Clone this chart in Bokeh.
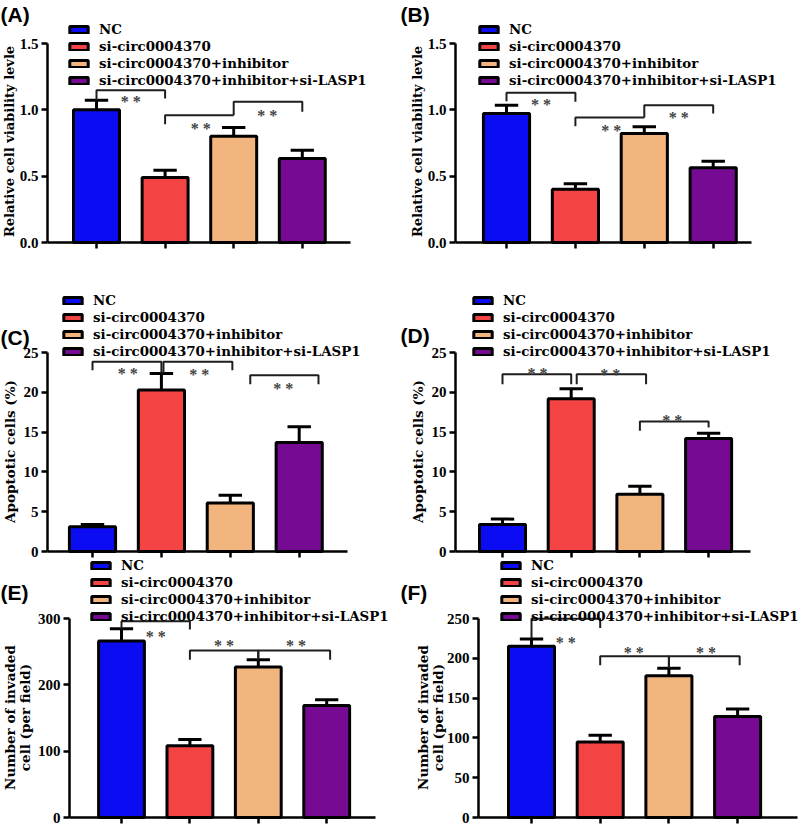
import math
from bokeh.plotting import figure
from bokeh.models import (ColumnDataSource, FixedTicker, Label, Legend, LegendItem, Range1d,
                          NumeralTickFormatter)
from bokeh.layouts import column, row
from bokeh.core.properties import value
from bokeh.embed import file_html
from bokeh.resources import INLINE

# ---------------- data ----------------
groups = ["NC", "si-circ0004370", "si-circ0004370+inhibitor", "si-circ0004370+inhibitor+si-LASP1"]
bar_colors = ["#0c0cf2", "#f44343", "#f1b57d", "#760a92"]

a_mean = [1.00, 0.49, 0.80, 0.633]
a_err = [0.073, 0.055, 0.067, 0.063]
b_mean = [0.972, 0.402, 0.822, 0.563]
b_err = [0.063, 0.040, 0.050, 0.050]
c_mean = [3.1, 20.3, 6.1, 13.7]
c_err = [0.3, 2.05, 0.97, 1.96]
d_mean = [3.4, 19.2, 7.2, 14.2]
d_err = [0.67, 1.26, 1.0, 0.67]
e_mean = [266, 108, 227, 169]
e_err = [18.7, 9.6, 11, 8.6]
f_mean = [215, 95, 178, 127]
f_err = [9.3, 8.4, 9.6, 9.2]

a_ticks = [0, 0.5, 1.0, 1.5]
b_ticks = [0, 0.5, 1.0, 1.5]
c_ticks = [0, 5, 10, 15, 20, 25]
d_ticks = [0, 5, 10, 15, 20, 25]
e_ticks = [0, 100, 200, 300]
f_ticks = [0, 50, 100, 150, 200, 250]

# significance brackets: (x_left, x_right, y_line, y_left_end, y_right_end, star_x, star_y)
a_brackets = [(0, 1, 1.148, 1.073, 1.085, 0.5, 1.09),
              (1, 2, 0.960, 0.892, 0.960, 1.52, 0.892),
              (2, 3, 1.060, 0.960, 0.985, 2.49, 0.985)]
b_brackets = [(0, 1, 1.128, 1.065, 1.060, 0.5, 1.073),
              (1, 2, 0.942, 0.877, 0.942, 1.52, 0.877),
              (2, 3, 1.035, 0.942, 0.972, 2.5, 0.972)]
c_brackets = [(0, 1.0, 23.83, 22.78, 22.36, 0.51, 22.9),
              (1.03, 2.03, 23.83, 22.36, 22.78, 1.55, 22.7),
              (2.29, 3.28, 22.15, 21.02, 21.02, 2.77, 21.02)]
d_brackets = [(0, 1, 22.28, 21.02, 21.02, 0.51, 22.9),
              (1.08, 2.09, 22.28, 21.02, 21.02, 1.57, 22.7),
              (2, 3, 16.33, 15.16, 15.58, 2.47, 16.92)]
e_brackets = [(0, 1, 296, 284.4, 283.4, 0.5, 279.4),
              (1, 2, 251.6, 238, 238, 1.5, 265.8),
              (2, 3.05, 251.6, 238, 238, 2.55, 265.8)]
f_brackets = [(0, 1, 249.6, 225.6, 238.2, 0.5, 224.4),
              (1, 2, 202.5, 191.2, 187.8, 1.49, 211.8),
              (2, 3.03, 202.5, 187.8, 191.2, 2.54, 211.8)]

SERIF = "DejaVu Serif"
TICKFONT = "Liberation Serif"
W = 400


def make_panel(letter, means, errs, brackets, ticks, fmt, ylabels, ylabel_size, g):
    H = g["h"]
    axis, c0, d, xend = g["axis"], g["c0"], g["d"], g["xend"]
    p0, ptop = g["p0"], g["ptop"]
    vtop = ticks[-1]
    sy = (p0 - ptop) / vtop

    def dx(fx):
        return (fx - c0) / d

    def dy(fy):
        return (p0 - fy) / sy

    p = figure(width=W, height=H, x_range=Range1d(dx(0), dx(W)), y_range=Range1d(dy(H), dy(0)),
               output_backend="svg", toolbar_location=None,
               min_border_left=0, min_border_right=0, min_border_top=0, min_border_bottom=0)
    p.xgrid.visible = False
    p.ygrid.visible = False
    p.outline_line_color = None
    p.background_fill_color = "white"
    p.border_fill_color = "white"

    idx = list(range(len(groups)))
    src = ColumnDataSource(dict(x=idx, top=means, color=bar_colors, group=groups))
    bars = p.vbar(x="x", top="top", width=0.67, bottom=0, source=src,
                  fill_color="color", line_color="black", line_width=3)

    tops = [m + e for m, e in zip(means, errs)]
    cw = 0.17
    p.segment(x0=idx, y0=means, x1=idx, y1=tops, line_color="black", line_width=3)
    p.segment(x0=[i - cw for i in idx], y0=tops, x1=[i + cw for i in idx], y1=tops,
              line_color="black", line_width=3)

    xs = [[b[0], b[0], b[1], b[1]] for b in brackets]
    ys = [[b[3], b[2], b[2], b[4]] for b in brackets]
    p.multi_line(xs=xs, ys=ys, line_color="#1e1e1e", line_width=2)
    p.text(x=[b[5] for b in brackets], y=[b[6] for b in brackets],
           text=["* *"] * len(brackets), text_font=value(TICKFONT), text_font_style="bold",
           text_font_size="16px", text_color="#444444", text_align="center",
           text_baseline="middle", y_offset=4)

    # axes (drawn at fixed positions so that the frame spans the whole panel)
    p.yaxis.fixed_location = dx(axis)
    p.xaxis.fixed_location = 0
    p.yaxis.ticker = FixedTicker(ticks=ticks)
    p.yaxis.bounds = (0, vtop)
    p.yaxis.formatter = NumeralTickFormatter(format=fmt)
    p.xaxis.ticker = FixedTicker(ticks=idx)
    p.xaxis.bounds = (dx(axis), dx(xend))
    p.xaxis.major_label_overrides = {i: "" for i in idx}
    p.xaxis.major_label_text_font_size = "1px"
    p.xaxis.major_label_standoff = 0
    for ax in (p.xaxis[0], p.yaxis[0]):
        ax.axis_line_width = 2.5
        ax.axis_line_color = "black"
        ax.major_tick_line_width = 2.5
        ax.major_tick_line_color = "black"
        ax.major_tick_out = 6
        ax.major_tick_in = 0
        ax.minor_tick_line_color = None
    p.yaxis.major_label_text_font = TICKFONT
    p.yaxis.major_label_text_font_style = "bold"
    p.yaxis.major_label_text_font_size = "15px"
    p.yaxis.major_label_text_color = "black"
    p.yaxis.major_label_standoff = 3

    # legend
    item_h, sp = 16, 1
    leg_h = 4 * item_h + 3 * sp
    items = [LegendItem(label=gname, renderers=[bars], index=i) for i, gname in enumerate(groups)]
    legend = Legend(items=items,
                    location=(g["lx"], H - (g["r0"] - item_h / 2 + leg_h)),
                    glyph_width=23, glyph_height=9, label_standoff=9, label_height=item_h,
                    spacing=sp, padding=0, margin=0, border_line_color=None,
                    background_fill_alpha=0,
                    label_text_font=SERIF, label_text_font_style="bold",
                    label_text_font_size="13.4px", label_text_color="black")
    p.add_layout(legend)

    # panel letter
    p.add_layout(Label(x=dx(0), y=dy(g["ly"]), text=letter, text_font="Liberation Sans",
                       text_font_style="bold", text_font_size="21px", text_color="black",
                       text_align="left", text_baseline="middle"))
    # y-axis label(s)
    for txt, fx in ylabels:
        p.add_layout(Label(x=dx(fx), y=dy(g["yly"]), text=txt, angle=math.pi / 2,
                           text_font=SERIF, text_font_style="bold", text_font_size=ylabel_size,
                           text_color="black", text_align="center", text_baseline="middle"))
    return p


geo_a = dict(h=268, axis=47, c0=96, d=68.6, xend=350, p0=242, ptop=43, lx=67, r0=29, ly=14, yly=141)
geo_b = dict(h=268, axis=55, c0=106, d=68.9, xend=351, p0=242, ptop=43, lx=77, r0=29, ly=14, yly=141)
geo_c = dict(h=290, axis=47, c0=92, d=68.9, xend=347, p0=283, ptop=84, lx=61, r0=32, ly=69, yly=183)
geo_d = dict(h=290, axis=55, c0=102, d=68.7, xend=350, p0=283, ptop=84, lx=71, r0=32, ly=67, yly=183)
geo_e = dict(h=269, axis=69, c0=121, d=68.4, xend=375, p0=259, ptop=60, lx=89, r0=7, ly=34, yly=159)
geo_f = dict(h=269, axis=78, c0=131, d=68.7, xend=397, p0=259, ptop=60, lx=99, r0=7, ly=34, yly=159)

pa = make_panel("(A)", a_mean, a_err, a_brackets, a_ticks, "0.0",
                [("Relative cell viability levle", 9)], "13px", geo_a)
pb = make_panel("(B)", b_mean, b_err, b_brackets, b_ticks, "0.0",
                [("Relative cell viability levle", 17)], "13px", geo_b)
pc = make_panel("(C)", c_mean, c_err, c_brackets, c_ticks, "0",
                [("Apoptotic cells (%)", 9)], "13.5px", geo_c)
pd = make_panel("(D)", d_mean, d_err, d_brackets, d_ticks, "0",
                [("Apoptotic cells (%)", 17)], "13.5px", geo_d)
pe = make_panel("(E)", e_mean, e_err, e_brackets, e_ticks, "0",
                [("Number of invaded", 9), ("cell (per field)", 24)], "13.5px", geo_e)
pf = make_panel("(F)", f_mean, f_err, f_brackets, f_ticks, "0",
                [("Number of invaded", 22), ("cell (per field)", 37)], "13.5px", geo_f)

layout = column(row(pa, pb), row(pc, pd), row(pe, pf))
open("out.html", "w").write(file_html(layout, INLINE))
